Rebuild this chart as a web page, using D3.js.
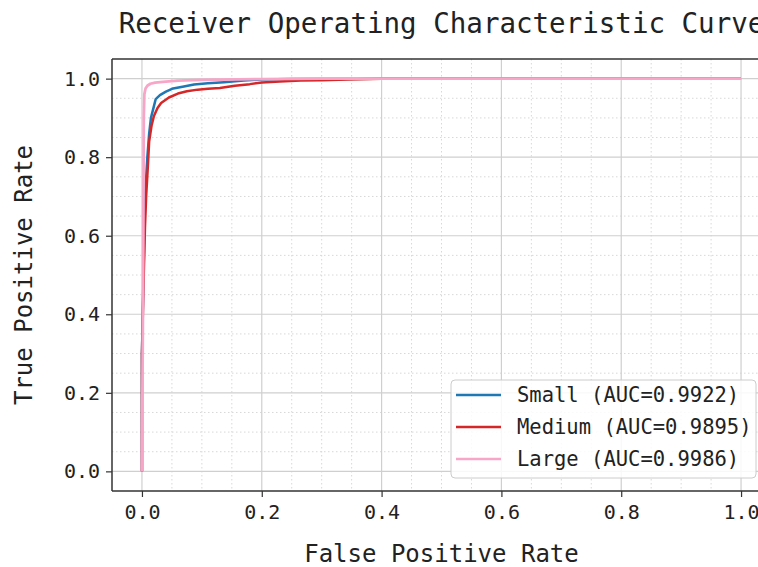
<!DOCTYPE html>
<html>
<head>
<meta charset="utf-8">
<script src="https://cdn.jsdelivr.net/npm/d3@7"></script>
<style>
  body { margin: 0; background: #fff; }
  text { font-family: "DejaVu Sans Mono", "Liberation Mono", monospace; fill: #222; }
</style>
</head>
<body>
<div id="chart"></div>
<script>
// ROC points
var smallFpr = [0, 0, 0.002, 0.003, 0.004, 0.006, 0.009, 0.012, 0.015, 0.02, 0.023, 0.03, 0.04, 0.052, 0.07, 0.087, 0.11, 0.137, 0.17, 0.2, 0.25, 0.4, 1.0];
var smallTpr = [0, 0.3, 0.45, 0.53, 0.62, 0.72, 0.8, 0.86, 0.9, 0.93, 0.948, 0.958, 0.967, 0.975, 0.98, 0.985, 0.988, 0.991, 0.995, 0.998, 0.999, 1.0, 1.0];

var mediumFpr = [0, 0, 0.003, 0.005, 0.007, 0.01, 0.012, 0.016, 0.02, 0.026, 0.032, 0.045, 0.06, 0.075, 0.093, 0.11, 0.13, 0.155, 0.18, 0.2, 0.23, 0.265, 0.3, 0.343, 0.4, 1.0];
var mediumTpr = [0, 0.3, 0.5, 0.62, 0.7, 0.78, 0.84, 0.88, 0.905, 0.925, 0.938, 0.952, 0.962, 0.968, 0.972, 0.974, 0.976, 0.982, 0.986, 0.99, 0.993, 0.995, 0.996, 0.998, 1.0, 1.0];

var largeFpr = [0, 0.002, 0.003, 0.004, 0.006, 0.009, 0.014, 0.022, 0.035, 0.06, 0.1, 0.2, 0.3, 1.0];
var largeTpr = [0, 0.5, 0.9, 0.96, 0.975, 0.982, 0.987, 0.99, 0.992, 0.995, 0.997, 0.999, 1.0, 1.0];

var seriesNames = ["Small", "Medium", "Large"];
var aucValues = ["0.9922", "0.9895", "0.9986"];
var seriesColors = ["#1f77b4", "#d62728", "#f7a6c8"];

var xTicks = [0, 0.2, 0.4, 0.6, 0.8, 1.0];
var yTicks = [0, 0.2, 0.4, 0.6, 0.8, 1.0];

(function() {
  var W = 758, H = 567;
  var margin = { top: 59, left: 112, right: -13, bottom: 76 };
  var width = W - margin.left - margin.right,
      height = H - margin.top - margin.bottom;

  var svg = d3.select("#chart").append("svg")
    .attr("width", W).attr("height", H);

  var g = svg.append("g")
    .attr("transform", "translate(" + margin.left + "," + margin.top + ")");

  var x = d3.scaleLinear().domain([-0.05, 1.05]).range([0, width]);
  var y = d3.scaleLinear().domain([-0.05, 1.05]).range([height, 0]);

  // minor grid (dotted)
  var minor = d3.range(0, 1.0001, 0.05).filter(function(v) { return Math.abs(v * 5 - Math.round(v * 5)) > 1e-6; });
  g.append("g").selectAll("line").data(minor).enter().append("line")
    .attr("x1", function(d) { return x(d); }).attr("x2", function(d) { return x(d); })
    .attr("y1", 0).attr("y2", height)
    .attr("stroke", "#d8d8d8").attr("stroke-width", 1).attr("stroke-dasharray", "1.5,2.5");
  g.append("g").selectAll("line").data(minor).enter().append("line")
    .attr("y1", function(d) { return y(d); }).attr("y2", function(d) { return y(d); })
    .attr("x1", 0).attr("x2", width)
    .attr("stroke", "#d8d8d8").attr("stroke-width", 1).attr("stroke-dasharray", "1.5,2.5");

  // major grid
  g.append("g").selectAll("line").data(xTicks).enter().append("line")
    .attr("x1", function(d) { return x(d); }).attr("x2", function(d) { return x(d); })
    .attr("y1", 0).attr("y2", height)
    .attr("stroke", "#cfcfcf").attr("stroke-width", 1.2);
  g.append("g").selectAll("line").data(yTicks).enter().append("line")
    .attr("y1", function(d) { return y(d); }).attr("y2", function(d) { return y(d); })
    .attr("x1", 0).attr("x2", width)
    .attr("stroke", "#cfcfcf").attr("stroke-width", 1.2);

  var line = d3.line()
    .x(function(d) { return x(d[0]); })
    .y(function(d) { return y(d[1]); });

  var allFpr = [smallFpr, mediumFpr, largeFpr];
  var allTpr = [smallTpr, mediumTpr, largeTpr];

  seriesNames.forEach(function(name, i) {
    var pts = allFpr[i].map(function(f, j) { return [f, allTpr[i][j]]; });
    g.append("path")
      .datum(pts)
      .attr("fill", "none")
      .attr("stroke", seriesColors[i])
      .attr("stroke-width", i == 2 ? 2.8 : 2.5)
      .attr("stroke-linejoin", "round")
      .attr("d", line);
  });

  // axes
  var xAxis = d3.axisBottom(x).tickValues(xTicks).tickFormat(d3.format(".1f")).tickSizeOuter(0).tickSize(6).tickPadding(8);
  var yAxis = d3.axisLeft(y).tickValues(yTicks).tickFormat(d3.format(".1f")).tickSizeOuter(0).tickSize(6).tickPadding(6);

  var xg = g.append("g").attr("transform", "translate(0," + height + ")").call(xAxis);
  var yg = g.append("g").call(yAxis);
  [xg, yg].forEach(function(a) {
    a.select(".domain").remove();
    a.selectAll(".tick line").attr("stroke", "#333").attr("stroke-width", 1.2);
    a.selectAll(".tick text").attr("font-size", "20px")
      .attr("font-family", "DejaVu Sans Mono").attr("fill", "#222");
  });

  // spines
  g.append("line").attr("x1", 0).attr("x2", 0).attr("y1", 0).attr("y2", height)
    .attr("stroke", "#333").attr("stroke-width", 1.5);
  g.append("line").attr("x1", 0).attr("x2", width).attr("y1", height).attr("y2", height)
    .attr("stroke", "#333").attr("stroke-width", 1.5);
  g.append("line").attr("x1", 0).attr("x2", width).attr("y1", 0).attr("y2", 0)
    .attr("stroke", "#333").attr("stroke-width", 1.5);

  // legend
  var leg = svg.append("g").attr("transform", "translate(451,380)");
  leg.append("rect")
    .attr("width", 305).attr("height", 98).attr("rx", 4)
    .attr("fill", "#fff").attr("fill-opacity", 0.85)
    .attr("stroke", "#cccccc").attr("stroke-width", 1);
  seriesNames.forEach(function(name, i) {
    var ly = 15 + i * 32;
    leg.append("line").attr("x1", 5).attr("x2", 50).attr("y1", ly).attr("y2", ly)
      .attr("stroke", seriesColors[i]).attr("stroke-width", 2.5);
    leg.append("text").attr("x", 66).attr("y", ly + 7)
      .attr("font-size", "20.5px")
      .text(name + " (AUC=" + aucValues[i] + ")");
  });

  // title and labels
  svg.append("text")
    .attr("x", margin.left + width / 2).attr("y", 33)
    .attr("text-anchor", "middle").attr("font-size", "27.5px")
    .text("Receiver Operating Characteristic Curve");

  svg.append("text")
    .attr("x", margin.left + width / 2).attr("y", 562)
    .attr("text-anchor", "middle").attr("font-size", "24px")
    .text("False Positive Rate");

  svg.append("text")
    .attr("transform", "translate(32," + (margin.top + height / 2) + ") rotate(-90)")
    .attr("text-anchor", "middle").attr("font-size", "24px")
    .text("True Positive Rate");
})();
</script>
</body>
</html>
